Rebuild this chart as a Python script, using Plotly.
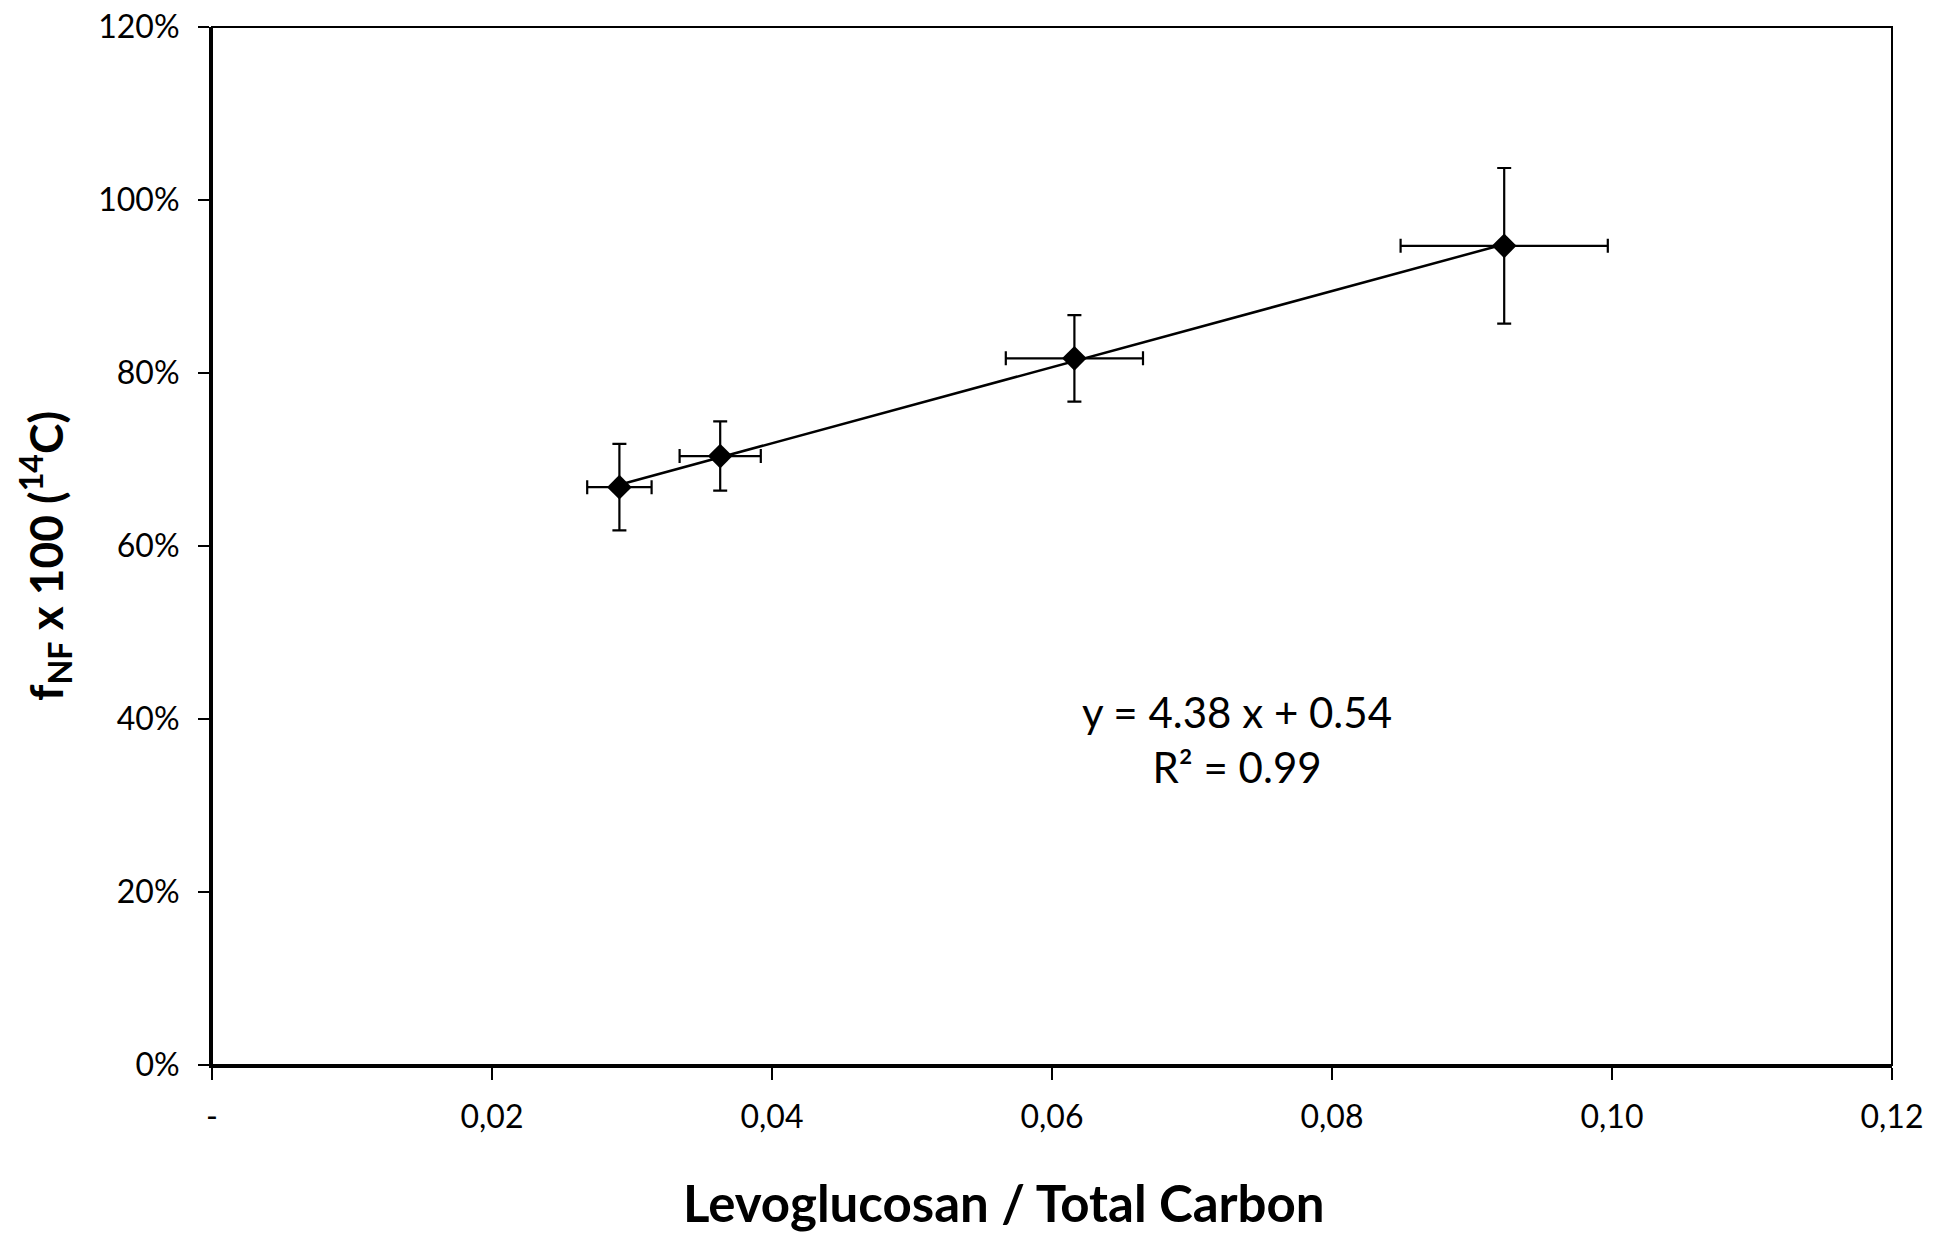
import numpy as np
import plotly.graph_objects as go

# Data
lev_tc = [0.0291, 0.0363, 0.0616, 0.0923]          # Levoglucosan / Total Carbon
f_nf = [0.668, 0.704, 0.817, 0.947]                # fNF x 100 (14C), fraction
x_err = [0.0023, 0.0029, 0.0049, 0.0074]
y_err = [0.05, 0.04, 0.05, 0.09]

x_tickvals = [0, 0.02, 0.04, 0.06, 0.08, 0.10, 0.12]
x_ticktext = ["-", "0,02", "0,04", "0,06", "0,08", "0,10", "0,12"]
y_tickvals = [0, 0.2, 0.4, 0.6, 0.8, 1.0, 1.2]
y_ticktext = ["0%", "20%", "40%", "60%", "80%", "100%", "120%"]

eq_text = "y = 4.38 x + 0.54<br>R² = 0.99"

FONT = "Lato"

# linear trendline fitted from the data
slope, intercept = np.polyfit(lev_tc, f_nf, 1)
fit_x = np.array([min(lev_tc), max(lev_tc)])
fit_y = slope * fit_x + intercept

fig = go.Figure()
fig.add_trace(go.Scatter(
    x=fit_x, y=fit_y, mode="lines",
    line=dict(color="black", width=2.5),
    hoverinfo="skip", showlegend=False,
))
fig.add_trace(go.Scatter(
    x=lev_tc, y=f_nf, mode="markers",
    marker=dict(symbol="diamond", size=19, color="black"),
    error_x=dict(type="data", array=x_err, color="black", thickness=2.2, width=7),
    error_y=dict(type="data", array=y_err, color="black", thickness=2.2, width=7),
    showlegend=False,
))

fig.add_annotation(
    x=0.0732, y=0.376, xref="x", yref="y",
    text=eq_text, showarrow=False, align="center",
    font=dict(family=FONT, size=42, color="black"),
)
fig.add_annotation(
    x=0.4714, y=-0.132, xref="paper", yref="paper",
    text="<b>Levoglucosan / Total Carbon</b>", showarrow=False,
    xanchor="center", yanchor="middle",
    font=dict(family=FONT, size=51, color="black"),
)
fig.add_annotation(
    x=-0.099, y=0.49, xref="paper", yref="paper",
    text="<b>f<sub>NF</sub> x 100 (<sup>14</sup>C)</b>", showarrow=False,
    textangle=-90, xanchor="center", yanchor="middle",
    font=dict(family=FONT, size=46, color="black"),
)

# thin plot-area border (top/right)
fig.add_shape(type="rect", xref="paper", yref="paper", x0=0, y0=0, x1=1, y1=1,
              line=dict(color="black", width=2), layer="above")

fig.update_xaxes(
    range=[0, 0.12], tickvals=x_tickvals, ticktext=x_ticktext,
    showgrid=False, zeroline=False,
    showline=True, linecolor="black", linewidth=3,
    ticks="outside", ticklen=12, tickwidth=2, tickcolor="black",
    ticklabelstandoff=10,
    tickfont=dict(family=FONT, size=32, color="black"),
)
fig.update_yaxes(
    range=[0, 1.2], tickvals=y_tickvals, ticktext=y_ticktext,
    showgrid=False, zeroline=False,
    showline=True, linecolor="black", linewidth=3,
    ticks="outside", ticklen=11, tickwidth=2, tickcolor="black",
    ticklabelstandoff=12,
    tickfont=dict(family=FONT, size=32, color="black"),
)

fig.update_layout(
    width=1933, height=1239,
    margin=dict(l=212, r=41, t=27, b=174, autoexpand=False),
    paper_bgcolor="white", plot_bgcolor="white",
    font=dict(family=FONT, color="black"),
)

fig.write_html("out.html")
